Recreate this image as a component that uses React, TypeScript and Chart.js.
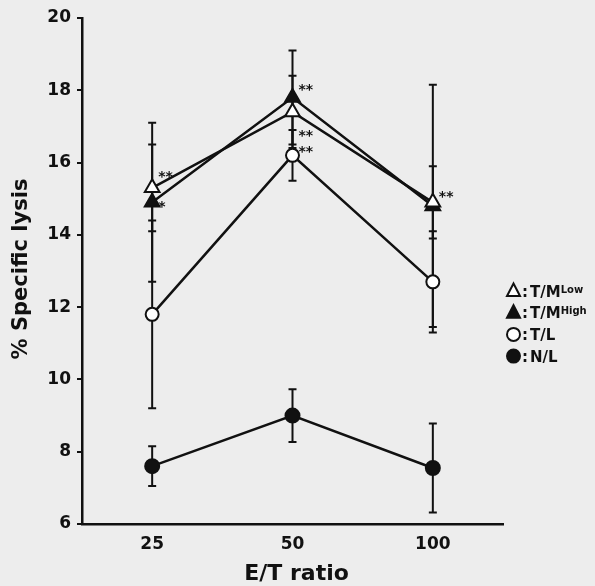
import React, { useEffect, useRef } from 'react';
import { Chart, registerables } from 'chart.js';

Chart.register(...registerables);

// ---- data ----
const categories = ['25', '50', '100'];

const seriesNames = ['T/M', 'T/M', 'T/L', 'N/L'];
const seriesSup = ['Low', 'High', '', ''];

const tmLow = [15.3, 17.4, 14.9];
const tmLowErr = [1.2, 1.0, 1.0];

const tmHigh = [14.9, 17.8, 14.8];
const tmHighErr = [2.2, 1.3, 3.35];

const tl = [11.8, 16.2, 12.7];
const tlErr = [2.6, 0.7, 1.4];

const nl = [7.6, 9.0, 7.55];
const nlErr = [0.55, 0.73, 1.23];

const yTicks = [6, 8, 10, 12, 14, 16, 18, 20];

// significance marks: category index, value level, text
const starCats = [0, 0, 1, 1, 1, 2];
const starLevels = [15.71, 14.88, 18.12, 16.85, 16.4, 15.16];
const starTexts = ['**', '*', '**', '**', '**', '**'];

const xTitle = 'E/T ratio';
const yTitle = '% Specific lysis';

const FONT = '"DejaVu Sans", "Liberation Sans", sans-serif';

const bgPlugin = {
  id: 'bg',
  beforeDraw(chart: any) {
    const { ctx, width, height } = chart;
    ctx.save();
    ctx.fillStyle = '#ededed';
    ctx.fillRect(0, 0, width, height);
    ctx.restore();
  },
};

const errorBarsPlugin = {
  id: 'errorBars',
  beforeDatasetsDraw(chart: any) {
    const { ctx } = chart;
    const y = chart.scales.y;
    chart.data.datasets.forEach((ds: any, i: number) => {
      const meta = chart.getDatasetMeta(i);
      meta.data.forEach((pt: any, j: number) => {
        const v = ds.data[j];
        const e = ds.errors[j];
        const yTop = y.getPixelForValue(v + e);
        const yBot = y.getPixelForValue(v - e);
        ctx.save();
        ctx.strokeStyle = '#111';
        ctx.lineWidth = 2;
        ctx.beginPath();
        ctx.moveTo(pt.x, yTop);
        ctx.lineTo(pt.x, yBot);
        ctx.moveTo(pt.x - 4, yTop);
        ctx.lineTo(pt.x + 4, yTop);
        ctx.moveTo(pt.x - 4, yBot);
        ctx.lineTo(pt.x + 4, yBot);
        ctx.stroke();
        ctx.restore();
      });
    });
  },
};

function drawTriangle(ctx: CanvasRenderingContext2D, cx: number, cy: number, filled: boolean) {
  ctx.beginPath();
  ctx.moveTo(cx, cy - 7.5);
  ctx.lineTo(cx - 6.5, cy + 5);
  ctx.lineTo(cx + 6.5, cy + 5);
  ctx.closePath();
  ctx.fillStyle = filled ? '#111' : '#fff';
  ctx.fill();
  ctx.lineWidth = 2;
  ctx.strokeStyle = '#111';
  ctx.stroke();
}

function drawCircle(ctx: CanvasRenderingContext2D, cx: number, cy: number, filled: boolean) {
  ctx.beginPath();
  ctx.arc(cx, cy, 6.5, 0, Math.PI * 2);
  ctx.fillStyle = filled ? '#111' : '#fff';
  ctx.fill();
  ctx.lineWidth = 2;
  ctx.strokeStyle = '#111';
  ctx.stroke();
}

const overlayPlugin = {
  id: 'overlay',
  afterDatasetsDraw(chart: any) {
    const { ctx } = chart;
    const x = chart.scales.x;
    const y = chart.scales.y;
    ctx.save();
    ctx.fillStyle = '#111';
    ctx.font = `bold 14px ${FONT}`;
    ctx.textAlign = 'left';
    ctx.textBaseline = 'alphabetic';
    starTexts.forEach((t, i) => {
      const px = x.getPixelForValue(starCats[i]) + 6;
      const py = y.getPixelForValue(starLevels[i]) + 8;
      ctx.fillText(t, px, py);
    });
    ctx.restore();
  },
  afterDraw(chart: any) {
    const { ctx, chartArea } = chart;
    ctx.save();
    ctx.fillStyle = '#111';
    // axis titles
    ctx.font = `bold 22px ${FONT}`;
    ctx.textAlign = 'center';
    ctx.textBaseline = 'alphabetic';
    ctx.fillText(xTitle, (chartArea.left + chartArea.right) / 2 + 4, 580);
    ctx.save();
    ctx.translate(27, 269);
    ctx.rotate(-Math.PI / 2);
    ctx.font = `bold 21px ${FONT}`;
    ctx.fillText(yTitle, 0, 0);
    ctx.restore();

    // legend
    const left = 513.5;
    chart.data.datasets.forEach((ds: any, i: number) => {
      const cy = 291 + i * 21.7;
      if (ds.pointStyle === 'triangle') drawTriangle(ctx, left, cy, ds.pointBackgroundColor !== '#fff');
      else drawCircle(ctx, left, cy, ds.pointBackgroundColor !== '#fff');
      ctx.fillStyle = '#111';
      ctx.textAlign = 'left';
      ctx.font = `bold 15px ${FONT}`;
      ctx.fillText(':', 522, cy + 5.5);
      ctx.fillText(seriesNames[i], 530, cy + 5.5);
      const w = ctx.measureText(seriesNames[i]).width;
      if (seriesSup[i]) {
        ctx.font = `bold 10px ${FONT}`;
        ctx.fillText(seriesSup[i], 530 + w, cy + 1.5);
      }
    });
    ctx.restore();
  },
};

export default function App() {
  const ref = useRef<HTMLCanvasElement | null>(null);

  useEffect(() => {
    if (!ref.current) return;
    const mk = (label: string, data: number[], errors: number[], style: string, filled: boolean, r: number) => ({
      label,
      data,
      errors,
      pointStyle: style,
      pointRadius: r,
      pointBorderWidth: 2,
      pointBackgroundColor: filled ? '#111' : '#fff',
      pointBorderColor: '#111',
      borderColor: '#111',
      backgroundColor: filled ? '#111' : '#fff',
      borderWidth: 2.5,
      fill: false,
      tension: 0,
    });
    const chart = new Chart(ref.current, {
      type: 'line',
      data: {
        labels: categories,
        datasets: [
          mk(seriesNames[0] + seriesSup[0], tmLow, tmLowErr, 'triangle', false, 8.5),
          mk(seriesNames[1] + seriesSup[1], tmHigh, tmHighErr, 'triangle', true, 8.5),
          mk(seriesNames[2], tl, tlErr, 'circle', false, 6.5),
          mk(seriesNames[3], nl, nlErr, 'circle', true, 7),
        ] as any,
      },
      options: {
        animation: false,
        responsive: true,
        maintainAspectRatio: false,
        layout: { padding: { top: 18, right: 92, left: 0, bottom: 0 } },
        plugins: {
          legend: { display: false },
          tooltip: { enabled: false },
        },
        scales: {
          x: {
            type: 'category',
            offset: true,
            afterFit: (s: any) => {
              s.height = 62;
            },
            grid: { display: true, drawOnChartArea: false, drawTicks: false },
            border: { display: true, color: '#111', width: 2.5 },
            ticks: {
              color: '#111',
              padding: 10,
              font: { family: FONT, size: 17, weight: 'bold' },
            },
          },
          y: {
            min: 6,
            max: 20,
            afterFit: (s: any) => {
              s.width = 82;
            },
            afterBuildTicks: (s: any) => {
              s.ticks = yTicks.map((v) => ({ value: v }));
            },
            grid: { display: true, drawOnChartArea: false, drawTicks: true, tickLength: 5, color: '#111', lineWidth: 2 },
            border: { display: true, color: '#111', width: 2.5 },
            ticks: {
              color: '#111',
              padding: 6,
              font: { family: FONT, size: 17, weight: 'bold' },
            },
          },
        },
      } as any,
      plugins: [bgPlugin, errorBarsPlugin, overlayPlugin],
    });
    return () => chart.destroy();
  }, []);

  return (
    <div style={{ position: 'absolute', left: 0, top: 0, width: 595, height: 586 }}>
      <canvas ref={ref} />
    </div>
  );
}
